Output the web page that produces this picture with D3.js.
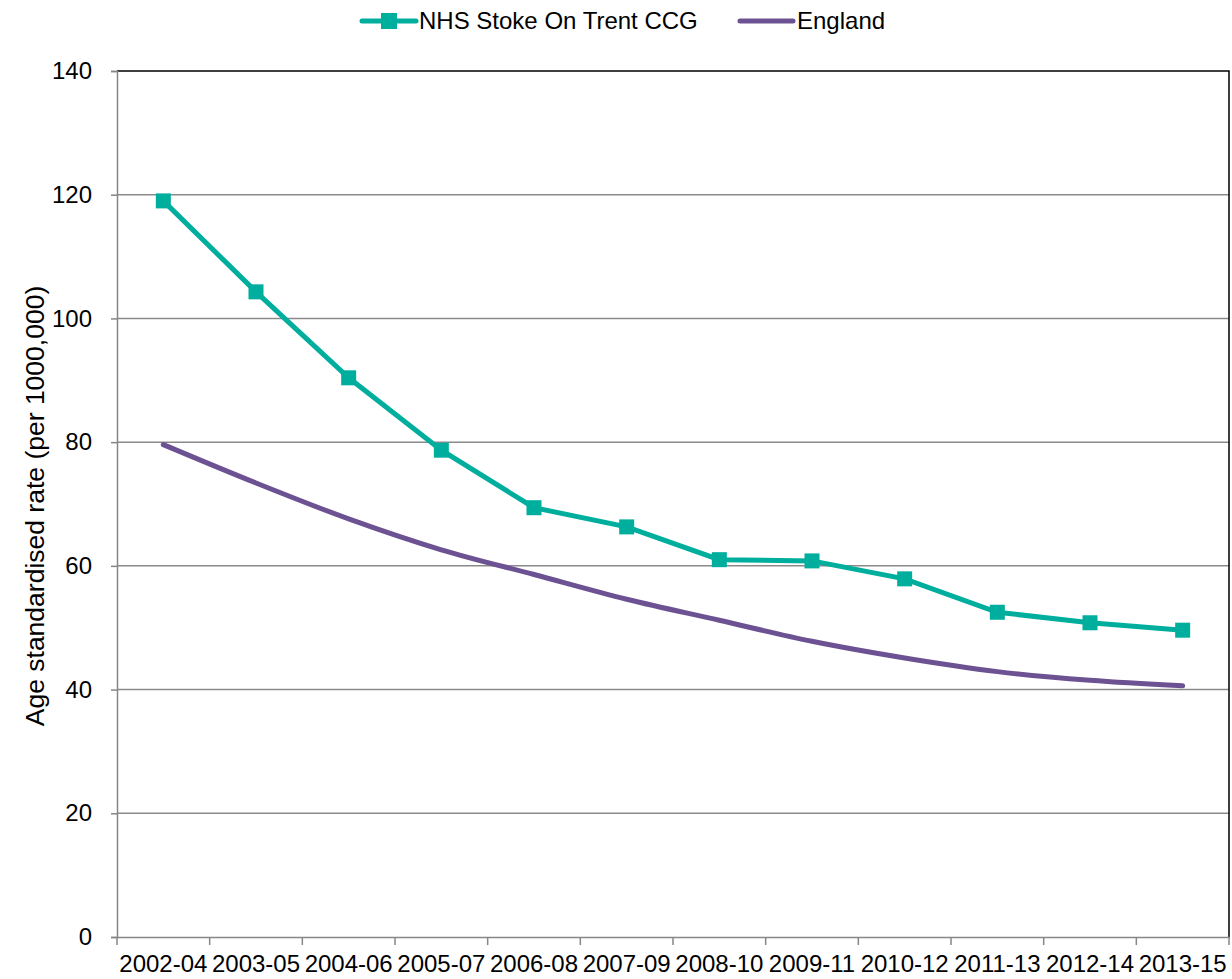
<!DOCTYPE html>
<html><head><meta charset="utf-8">
<script src="https://cdn.jsdelivr.net/npm/d3@7"></script>
<style>body{margin:0;background:#fff;} text{font-family:"Liberation Sans",Arial,sans-serif;}</style>
</head><body>
<svg id="c" width="1232" height="979"></svg>
<script>
const categories = ["2002-04","2003-05","2004-06","2005-07","2006-08","2007-09","2008-10","2009-11","2010-12","2011-13","2012-14","2013-15"];
const stokeValues = [119.0, 104.3, 90.4, 78.7, 69.4, 66.3, 61.0, 60.8, 57.9, 52.5, 50.8, 49.6];
const englandValues = [79.6, 73.4, 67.6, 62.6, 58.6, 54.6, 51.2, 47.8, 45.1, 42.9, 41.5, 40.6];
const yTicks = [0, 20, 40, 60, 80, 100, 120, 140];
const seriesNames = ["NHS Stoke On Trent CCG", "England"];
const colors = ["#00AE9D", "#6C5292"];

const svg = d3.select("#c");
const m = {l:117, r:1229, t:71, b:937};
const x = d3.scaleBand().domain(categories).range([m.l, m.r]);
const y = d3.scaleLinear().domain([0,140]).range([m.b, m.t]);
const cx = d => x(d) + x.bandwidth()/2;
const FS = 24;

// gridlines
svg.append("g").selectAll("line").data(yTicks.filter(v=>v>0 && v<140)).join("line")
  .attr("x1", m.l).attr("x2", m.r).attr("y1", d=>y(d)).attr("y2", d=>y(d))
  .attr("stroke", "#8a8a8a").attr("stroke-width", 1.5);

// top and right border
svg.append("path").attr("d", `M${m.l},${m.t}H${m.r}V${m.b}`).attr("fill","none")
  .attr("stroke","#000").attr("stroke-width",1.5);

// y axis
const ya = svg.append("g").attr("transform", `translate(${m.l},0)`)
  .call(d3.axisLeft(y).tickValues(yTicks).tickSize(6).tickPadding(19).tickFormat(d3.format("d")));
ya.attr("font-size", null).attr("font-family", null);
ya.select(".domain").attr("stroke","#868686").attr("stroke-width",1.5);
ya.selectAll(".tick line").attr("stroke","#868686").attr("stroke-width",1.5);
ya.selectAll(".tick text").style("font-size", FS+"px").attr("fill","#000");

// x axis
const xa = svg.append("g").attr("transform", `translate(0,${m.b})`)
  .call(d3.axisBottom(x).tickSize(0).tickPadding(17));
xa.attr("font-size", null).attr("font-family", null);
xa.select(".domain").attr("stroke","#868686").attr("stroke-width",1.5);
xa.selectAll(".tick text").style("font-size", FS+"px").attr("fill","#000").attr("dy", null).attr("y", 35);
const bounds = categories.map(c=>x(c)).concat([m.r]);
svg.append("g").selectAll("line").data(bounds).join("line")
  .attr("x1", d=>d).attr("x2", d=>d).attr("y1", m.b).attr("y2", m.b+8)
  .attr("stroke","#868686").attr("stroke-width",1.5);

// y label
svg.append("text").attr("transform", `translate(44,${(m.t+m.b)/2 + 2}) rotate(-90)`)
  .attr("text-anchor","middle").style("font-size","26.5px").attr("fill","#000")
  .text("Age standardised rate (per 1000,000)");

// England line (smoothed)
svg.append("path").datum(englandValues)
  .attr("d", d3.line().x((d,i)=>cx(categories[i])).y(d=>y(d)).curve(d3.curveMonotoneX))
  .attr("fill","none").attr("stroke", colors[1]).attr("stroke-width",5).attr("stroke-linecap","round");

// Stoke line
svg.append("path").datum(stokeValues)
  .attr("d", d3.line().x((d,i)=>cx(categories[i])).y(d=>y(d)))
  .attr("fill","none").attr("stroke", colors[0]).attr("stroke-width",5);
const ms = 15;
svg.append("g").selectAll("rect").data(stokeValues).join("rect")
  .attr("x",(d,i)=>cx(categories[i])-ms/2).attr("y",d=>y(d)-ms/2)
  .attr("width",ms).attr("height",ms).attr("fill",colors[0]);

// legend
const lg = svg.append("g");
lg.append("line").attr("x1",362).attr("x2",416).attr("y1",21).attr("y2",21)
  .attr("stroke",colors[0]).attr("stroke-width",5).attr("stroke-linecap","round");
lg.append("rect").attr("x",389-8).attr("y",21-8).attr("width",16).attr("height",16).attr("fill",colors[0]);
lg.append("text").attr("x",419).attr("y",29).style("font-size",FS+"px").attr("fill","#000").text(seriesNames[0]);
lg.append("line").attr("x1",740).attr("x2",793).attr("y1",21).attr("y2",21)
  .attr("stroke",colors[1]).attr("stroke-width",5).attr("stroke-linecap","round");
lg.append("text").attr("x",797).attr("y",29).style("font-size",FS+"px").attr("fill","#000").text(seriesNames[1]);
</script>
</body></html>
